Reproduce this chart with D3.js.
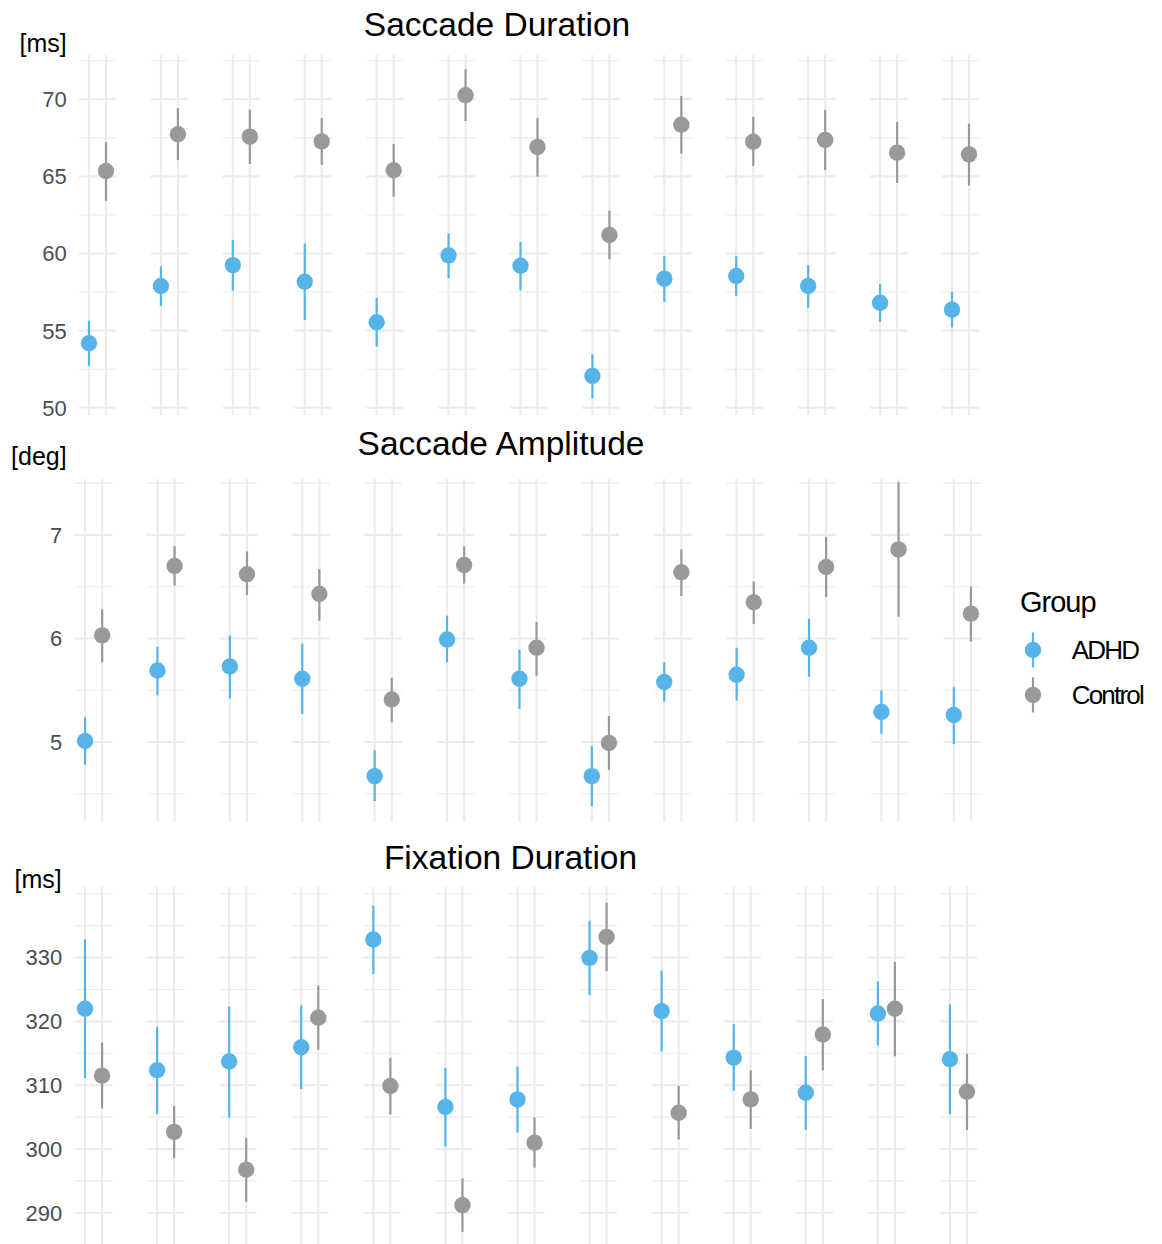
<!DOCTYPE html>
<html>
<head>
<meta charset="utf-8">
<title>Eye movement measures by group</title>
<script src="https://cdn.jsdelivr.net/npm/d3@7"></script>
<style>
    body { margin: 0; background: #fff; }
    svg { display: block; font-family: "Liberation Sans", Arial, sans-serif; }
</style>
</head>
<body>
<div id="chart"></div>
<script>
// Values (13 conditions, 2 groups)

const categories = ["1", "2", "3", "4", "5", "6", "7", "8", "9", "10", "11", "12", "13"];
const groups = ["ADHD", "Control"];

// Saccade Duration [ms]
const sdAdhdMean = [54.18, 57.89, 59.25, 58.17, 55.54, 59.88, 59.21, 52.06, 58.37, 58.54, 57.89, 56.81, 56.36];
const sdAdhdLow = [52.72, 56.60, 57.59, 55.69, 53.96, 58.39, 57.61, 50.61, 56.87, 57.26, 56.49, 55.56, 55.21];
const sdAdhdHigh = [55.64, 59.17, 60.88, 60.64, 57.13, 61.31, 60.75, 53.46, 59.84, 59.82, 59.25, 58.02, 57.50];
const sdCtrlMean = [65.35, 67.73, 67.58, 67.27, 65.40, 70.26, 66.91, 61.20, 68.35, 67.25, 67.36, 66.54, 66.43];
const sdCtrlLow = [63.42, 66.06, 65.80, 65.74, 63.68, 68.59, 64.98, 59.62, 66.47, 65.68, 65.41, 64.57, 64.40];
const sdCtrlHigh = [67.23, 69.42, 69.33, 68.79, 67.10, 71.95, 68.79, 62.78, 70.21, 68.87, 69.31, 68.53, 68.42];

// Saccade Amplitude [deg]
const saAdhdMean = [5.01, 5.69, 5.73, 5.61, 4.67, 5.99, 5.61, 4.67, 5.58, 5.65, 5.91, 5.29, 5.26];
const saAdhdLow = [4.78, 5.45, 5.42, 5.27, 4.43, 5.77, 5.32, 4.38, 5.39, 5.40, 5.63, 5.08, 4.98];
const saAdhdHigh = [5.24, 5.92, 6.03, 5.95, 4.92, 6.22, 5.89, 4.96, 5.77, 5.91, 6.19, 5.50, 5.53];
const saCtrlMean = [6.03, 6.70, 6.62, 6.43, 5.41, 6.71, 5.91, 4.99, 6.64, 6.35, 6.69, 6.86, 6.24];
const saCtrlLow = [5.77, 6.51, 6.42, 6.17, 5.19, 6.53, 5.64, 4.73, 6.41, 6.14, 6.40, 6.21, 5.97];
const saCtrlHigh = [6.28, 6.89, 6.84, 6.67, 5.62, 6.89, 6.16, 5.25, 6.86, 6.55, 6.98, 7.51, 6.50];

// Fixation Duration [ms]
const fdAdhdMean = [321.98, 312.33, 313.70, 315.95, 332.83, 306.57, 307.77, 329.94, 321.60, 314.32, 308.82, 321.24, 314.06];
const fdAdhdLow = [311.13, 305.47, 304.94, 309.40, 327.42, 300.38, 302.58, 324.12, 315.27, 309.13, 303.00, 316.21, 305.47];
const fdAdhdHigh = [332.83, 319.15, 322.34, 322.50, 338.12, 312.70, 312.91, 335.76, 327.96, 319.56, 314.59, 326.27, 322.66];
const fdCtrlMean = [311.49, 302.69, 296.76, 320.57, 309.87, 291.21, 301.00, 333.24, 305.68, 307.77, 317.94, 321.98, 308.98];
const fdCtrlLow = [306.36, 298.55, 291.73, 315.53, 305.41, 287.02, 297.08, 327.90, 301.48, 303.16, 312.33, 314.53, 302.96];
const fdCtrlHigh = [316.68, 306.73, 301.74, 325.65, 314.28, 295.41, 304.94, 338.59, 309.87, 312.33, 323.49, 329.31, 314.95];

// y tick labels per panel
const sdTicks = [50, 55, 60, 65, 70];
const saTicks = [5, 6, 7];
const fdTicks = [290, 300, 310, 320, 330];

const colors = { ADHD: "#56B4E9", Control: "#999999" };
const gridColor = "#ebebeb";
const width = 1162;
const height = 1244;

function buildRows(mean, low, high) {
    // one record per category and group
    const rows = [];
    categories.forEach((cat, i) => {
        groups.forEach((g, gi) => {
            rows.push({ cat: cat, group: g, mean: mean[gi][i], low: low[gi][i], high: high[gi][i] });
        });
    });
    return rows;
}

const panels = [
    {
        title: "Saccade Duration", unit: "[ms]", ticks: sdTicks, step: 5,
        rows: buildRows([sdAdhdMean, sdCtrlMean], [sdAdhdLow, sdCtrlLow], [sdAdhdHigh, sdCtrlHigh]),
        left: 78.8, right: 979.2, top: 55, bottom: 415, domain: [49.53, 72.87],
        titleX: 497, titleY: 36, unitX: 66.7, unitY: 51.5, labelX: 66.7
    },
    {
        title: "Saccade Amplitude", unit: "[deg]", ticks: saTicks, step: 1,
        rows: buildRows([saAdhdMean, saCtrlMean], [saAdhdLow, saCtrlLow], [saAdhdHigh, saCtrlHigh]),
        left: 74.8, right: 981.2, top: 479, bottom: 821.7, domain: [4.23, 7.54],
        titleX: 501, titleY: 454.5, unitX: 66.7, unitY: 465, labelX: 62.3
    },
    {
        title: "Fixation Duration", unit: "[ms]", ticks: fdTicks, step: 10,
        rows: buildRows([fdAdhdMean, fdCtrlMean], [fdAdhdLow, fdCtrlLow], [fdAdhdHigh, fdCtrlHigh]),
        left: 74.8, right: 977.2, top: 886.7, bottom: 1246, domain: [284.8, 341.1],
        titleX: 510.5, titleY: 869, unitX: 61.7, unitY: 888, labelX: 62.3
    }
];

const svg = d3.select("#chart")
    .append("svg")
    .attr("width", width)
    .attr("height", height);

svg.append("rect").attr("width", width).attr("height", height).attr("fill", "#fff");

function drawPanel(p) {
    const g = svg.append("g");

    const facet = d3.scaleBand()
        .domain(categories)
        .range([p.left, p.right])
        .paddingInner(0.48)
        .paddingOuter(0);

    const x = d3.scaleBand().domain(groups); // only for the order
    const inner = d3.scaleLinear()
        .domain([0.4, 2.6])
        .range([0, facet.bandwidth()]);
    const xPos = (cat, grp) => facet(cat) + inner(groups.indexOf(grp) + 1);

    const y = d3.scaleLinear()
        .domain(p.domain)
        .range([p.bottom, p.top]);

    // minor breaks: midpoints, extended one step past the majors
    const first = p.ticks[0] - p.step;
    const last = p.ticks[p.ticks.length - 1] + p.step;
    const minor = d3.range(first, last + p.step / 4, p.step / 2)
        .filter(v => !p.ticks.includes(v))
        .filter(v => v >= p.domain[0] && v <= p.domain[1]);

    categories.forEach(cat => {
        const x0 = facet(cat);
        const x1 = x0 + facet.bandwidth();

        g.append("g")
            .selectAll("line")
            .data(minor)
            .join("line")
            .attr("x1", x0).attr("x2", x1)
            .attr("y1", d => y(d)).attr("y2", d => y(d))
            .attr("stroke", gridColor)
            .attr("stroke-width", 1.1);

        g.append("g")
            .selectAll("line")
            .data(p.ticks)
            .join("line")
            .attr("x1", x0).attr("x2", x1)
            .attr("y1", d => y(d)).attr("y2", d => y(d))
            .attr("stroke", gridColor)
            .attr("stroke-width", 2.1);

        g.append("g")
            .selectAll("line")
            .data(x.domain())
            .join("line")
            .attr("x1", d => xPos(cat, d)).attr("x2", d => xPos(cat, d))
            .attr("y1", p.top).attr("y2", p.bottom)
            .attr("stroke", gridColor)
            .attr("stroke-width", 2.1);
    });

    // y tick labels (left of first facet only)
    g.append("g")
        .selectAll("text")
        .data(p.ticks)
        .join("text")
        .attr("x", p.labelX)
        .attr("y", d => y(d))
        .attr("dy", "0.36em")
        .attr("text-anchor", "end")
        .attr("fill", "#4d4d4d")
        .style("font-size", "22px")
        .text(d => d);

    // point ranges
    const marks = g.append("g")
        .selectAll("g")
        .data(p.rows)
        .join("g");

    marks.append("line")
        .attr("x1", d => xPos(d.cat, d.group))
        .attr("x2", d => xPos(d.cat, d.group))
        .attr("y1", d => y(d.low))
        .attr("y2", d => y(d.high))
        .attr("stroke", d => colors[d.group])
        .attr("stroke-width", 2.2);

    marks.append("circle")
        .attr("cx", d => xPos(d.cat, d.group))
        .attr("cy", d => y(d.mean))
        .attr("r", 8.2)
        .attr("fill", d => colors[d.group]);

    svg.append("text")
        .attr("x", p.titleX)
        .attr("y", p.titleY)
        .attr("text-anchor", "middle")
        .attr("fill", "#000")
        .style("font-size", "33.5px")
        .text(p.title);

    svg.append("text")
        .attr("x", p.unitX)
        .attr("y", p.unitY)
        .attr("text-anchor", "end")
        .attr("fill", "#000")
        .style("font-size", "25px")
        .text(p.unit);
}

panels.forEach(drawPanel);

// Legend
const legend = svg.append("g").attr("transform", "translate(1020,0)");

legend.append("text")
    .attr("x", 0)
    .attr("y", 612)
    .attr("fill", "#000")
    .style("font-size", "29px")
    .style("letter-spacing", "-1px")
    .text("Group");

const keys = legend.selectAll("g.key")
    .data(groups)
    .join("g")
    .attr("class", "key")
    .attr("transform", (d, i) => `translate(13,${650 + i * 45})`);

keys.append("line")
    .attr("y1", -17.5).attr("y2", 17.5)
    .attr("stroke", d => colors[d])
    .attr("stroke-width", 2.2);

keys.append("circle")
    .attr("r", 8.2)
    .attr("fill", d => colors[d]);

keys.append("text")
    .attr("x", 38.7)
    .attr("dy", "0.36em")
    .attr("fill", "#000")
    .style("font-size", "26px")
    .style("letter-spacing", "-1.8px")
    .text(d => d);
</script>
</body>
</html>
